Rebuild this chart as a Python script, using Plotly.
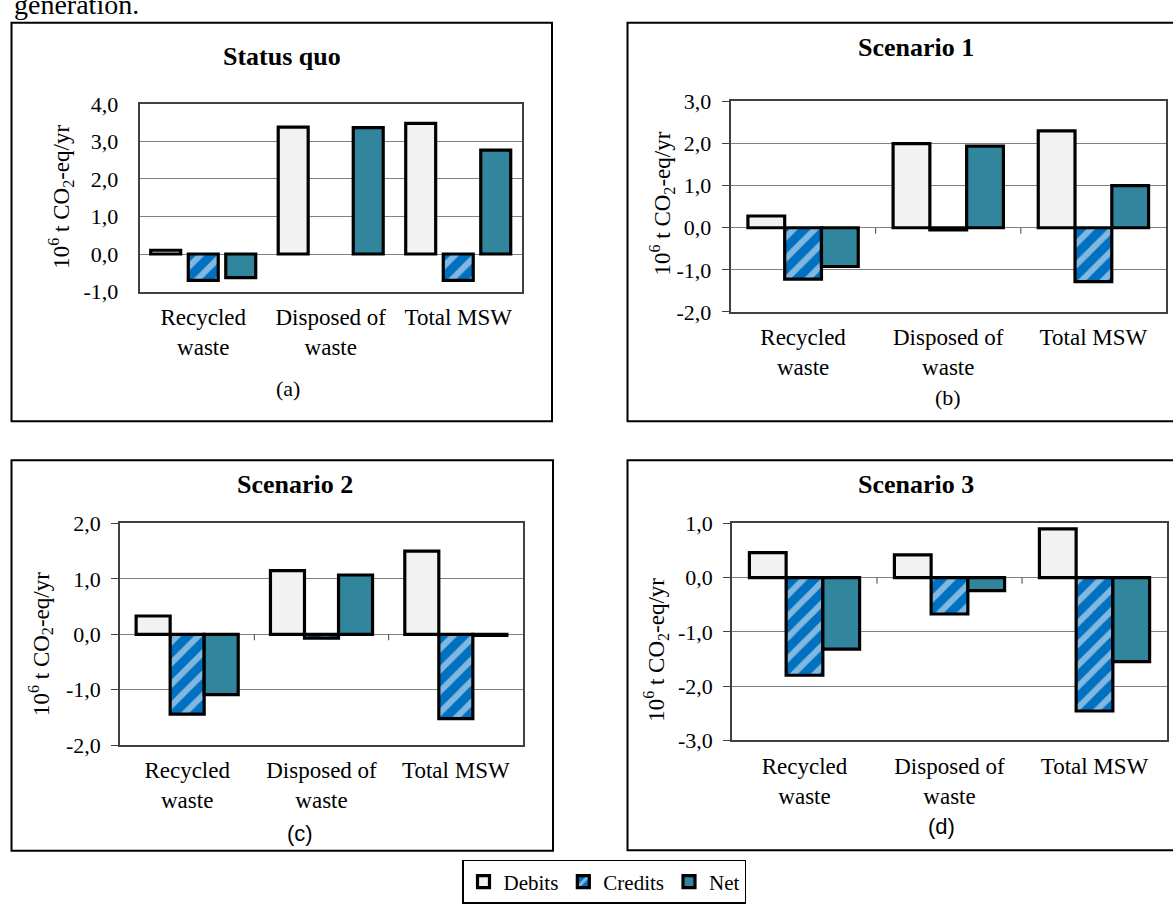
import plotly.graph_objects as go

W, H = 1173, 904

# ---------------- data ----------------
categories = ["Recycled<br>waste", "Disposed of<br>waste", "Total MSW"]
series_names = ["Debits", "Credits", "Net"]

status_quo_debits = [0.10, 3.38, 3.48]
status_quo_credits = [-0.70, None, -0.70]
status_quo_net = [-0.63, 3.37, 2.77]

scenario1_debits = [0.28, 2.00, 2.30]
scenario1_credits = [-1.22, -0.05, -1.28]
scenario1_net = [-0.92, 1.94, 1.00]

scenario2_debits = [0.33, 1.15, 1.50]
scenario2_credits = [-1.44, -0.07, -1.52]
scenario2_net = [-1.09, 1.07, -0.02]

scenario3_debits = [0.46, 0.42, 0.90]
scenario3_credits = [-1.80, -0.67, -2.46]
scenario3_net = [-1.32, -0.24, -1.55]

panel_titles = ["Status quo", "Scenario 1", "Scenario 2", "Scenario 3"]
panel_letters = ["(a)", "(b)", "(c)", "(d)"]
y_ranges = [[-1, 4], [-2, 3], [-2, 2], [-3, 1]]
ytick_values = [[-1, 0, 1, 2, 3, 4], [-2, -1, 0, 1, 2, 3], [-2, -1, 0, 1, 2], [-3, -2, -1, 0, 1]]
ytick_labels = [["-1,0", "0,0", "1,0", "2,0", "3,0", "4,0"],
                ["-2,0", "-1,0", "0,0", "1,0", "2,0", "3,0"],
                ["-2,0", "-1,0", "0,0", "1,0", "2,0"],
                ["-3,0", "-2,0", "-1,0", "0,0", "1,0"]]
y_title = "10<sup>6</sup> t CO<sub>2</sub>-eq/yr"

panel_data = [
    [status_quo_debits, status_quo_credits, status_quo_net],
    [scenario1_debits, scenario1_credits, scenario1_net],
    [scenario2_debits, scenario2_credits, scenario2_net],
    [scenario3_debits, scenario3_credits, scenario3_net],
]

# ---------------- styling / geometry (pixels) ----------------
SERIF = "Liberation Serif"
SANS = "Liberation Sans"
DEBIT_COLOR = "#F2F2F2"
CREDIT_COLOR = "#0070C0"
NET_COLOR = "#31859C"

# plot areas: (left, top, right, bottom)
plot_px = [(139.5, 94.5, 522, 287.5), (730.5, 92, 1166, 308.5),
           (120, 526, 523, 754), (732, 526, 1167, 749)]
box_px = [(11.5, 11, 552, 421), (627.5, 11, 1185, 421),
          (11.5, 461, 553, 862.5), (627.5, 461, 1185, 862)]
title_px = [(281.5, 46), (916, 36), (295, 486), (916, 486)]
ylab_px = [(61, 190), (662, 197), (40, 650), (656, 656)]
letter_px = [(288, 387), (948, 396), (299.5, 845), (941.5, 838)]
letter_fonts = [SERIF, SERIF, SANS, SANS]
bar_widths = [0.235, 0.2533, 0.2533, 0.2533]
bar_offsets = [[-0.412, -0.1175, 0.1765],
               [-0.38, -0.1267, 0.1267],
               [-0.38, -0.1267, 0.1267],
               [-0.38, -0.1267, 0.1267]]
ytick_len = [0, 7, 7, 7]


def fx(p):
    return p / W


def fy(p):
    return 1 - p / H


fig = go.Figure()
shapes = []
annotations = []

for i in range(4):
    xa = "x" if i == 0 else f"x{i+1}"
    ya = "y" if i == 0 else f"y{i+1}"
    vals = panel_data[i]
    for s in range(3):
        marker = dict(line=dict(color="black", width=3.2))
        if s == 0:
            marker["color"] = DEBIT_COLOR
        elif s == 1:
            marker["color"] = CREDIT_COLOR
            marker["pattern"] = dict(shape="/", fgcolor="white", bgcolor=CREDIT_COLOR,
                                     size=15, solidity=0.4)
        else:
            marker["color"] = NET_COLOR
        fig.add_trace(go.Bar(
            x=categories, y=vals[s], name=series_names[s],
            xaxis=xa, yaxis=ya, marker=marker,
            width=bar_widths[i], offset=bar_offsets[i][s],
            showlegend=(i == 0), legendrank=s + 1,
            hoverinfo="skip",
        ))

    l, t, r, b = plot_px[i]
    xkey = "xaxis" if i == 0 else f"xaxis{i+1}"
    ykey = "yaxis" if i == 0 else f"yaxis{i+1}"
    fig.update_layout(**{
        xkey: dict(domain=[fx(l), fx(r)], anchor=ya, type="category",
                   range=[-0.5, 2.5], showgrid=False, showline=True, mirror=True,
                   linecolor="#404040", linewidth=1.5, ticks="",
                   tickfont=dict(family=SERIF, size=23, color="black"),
                   ticklabelstandoff=4, fixedrange=True),
        ykey: dict(domain=[fy(b), fy(t)], anchor=xa, range=y_ranges[i],
                   tickvals=ytick_values[i], ticktext=ytick_labels[i],
                   showgrid=True, gridcolor="#808080", gridwidth=1,
                   zeroline=True, zerolinecolor="#808080", zerolinewidth=1,
                   showline=True, mirror=True, linecolor="#404040", linewidth=1.5,
                   ticks="outside" if ytick_len[i] else "", ticklen=ytick_len[i],
                   tickcolor="#404040", tickwidth=1,
                   ticklabelstandoff=(15 if ytick_len[i] == 0 else 6),
                   tickfont=dict(family=SERIF, size=22, color="black"),
                   fixedrange=True),
    })

    # small category separator ticks on the zero line (panels b-d)
    if i > 0:
        for k in range(len(categories) - 1):
            shapes.append(dict(type="line", xref=xa, yref=ya, x0=k + 0.5, x1=k + 0.5,
                               ysizemode="pixel", yanchor=0, y0=0, y1=-6,
                               line=dict(color="#404040", width=1)))

    bl, bt, br, bb = box_px[i]
    shapes.append(dict(type="rect", xref="paper", yref="paper",
                       x0=fx(bl), x1=fx(br), y0=fy(bb), y1=fy(bt),
                       line=dict(color="black", width=2), layer="above"))

    tx, ty = title_px[i]
    annotations.append(dict(text=f"<b>{panel_titles[i]}</b>", x=fx(tx), y=fy(ty),
                            xref="paper", yref="paper", showarrow=False,
                            xanchor="center", yanchor="middle",
                            font=dict(family=SERIF, size=26, color="black")))
    lx, ly = ylab_px[i]
    annotations.append(dict(text=y_title, x=fx(lx), y=fy(ly), xref="paper", yref="paper",
                            showarrow=False, textangle=-90, xanchor="center",
                            yanchor="middle",
                            font=dict(family=SERIF, size=23, color="black")))
    px_, py_ = letter_px[i]
    annotations.append(dict(text=panel_letters[i], x=fx(px_), y=fy(py_), xref="paper",
                            yref="paper", showarrow=False, xanchor="center",
                            yanchor="middle",
                            font=dict(family=letter_fonts[i], size=22, color="black")))

# cropped caption text at the very top
annotations.append(dict(text="generation.", x=fx(12), y=fy(-8), xref="paper", yref="paper",
                        showarrow=False, xanchor="left", yanchor="middle",
                        font=dict(family=SERIF, size=28, color="black")))

fig.update_layout(
    width=W, height=H,
    margin=dict(l=0, r=0, t=0, b=0),
    paper_bgcolor="white", plot_bgcolor="white",
    barmode="overlay",
    shapes=shapes, annotations=annotations,
    showlegend=True,
    font=dict(family=SERIF, color="black"),
    legend=dict(orientation="h", x=fx(462), y=fy(872), xanchor="left", yanchor="top",
                bordercolor="black", borderwidth=1.5, bgcolor="white",
                font=dict(family=SERIF, size=21, color="black"),
                itemwidth=30, traceorder="normal"),
)

fig.write_html("out.html", config={"displayModeBar": False},
               post_script="document.body.style.margin='0';document.body.style.overflow='hidden';")
